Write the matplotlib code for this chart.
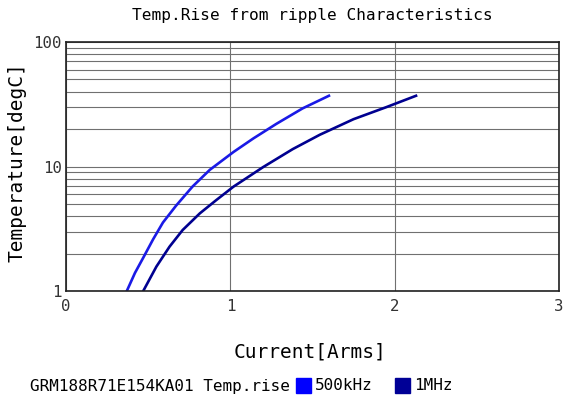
import numpy as np
import matplotlib
matplotlib.use("Agg")
import matplotlib.pyplot as plt
from matplotlib.patches import Rectangle

# values
cur_500k = [0.37, 0.42, 0.47, 0.53, 0.59, 0.67, 0.77, 0.875, 1.02, 1.14, 1.28, 1.44, 1.60]
temp_500k = [1.0, 1.4, 1.85, 2.6, 3.55, 4.85, 6.9, 9.4, 13.1, 16.8, 22.0, 29.3, 37.0]
cur_1m = [0.47, 0.55, 0.63, 0.71, 0.815, 0.915, 1.02, 1.10, 1.20, 1.38, 1.545, 1.75, 1.95, 2.13]
temp_1m = [1.0, 1.57, 2.27, 3.09, 4.21, 5.38, 6.9, 8.1, 9.9, 13.8, 18.0, 24.0, 30.0, 37.0]

x_ticks = [0, 1, 2, 3]
y_ticks = [1, 10, 100]
col_500k = "#1a1ae6"
col_1m = "#000090"

plt.rcParams['font.family'] = ['DejaVu Sans Mono']
fs = 11.3

fig = plt.figure(figsize=(5.67, 4.03), dpi=100)
ax = fig.add_axes([66 / 567, 1 - 291 / 403, (559 - 66) / 567, (291 - 42) / 403])

ax.plot(cur_500k, temp_500k, color=col_500k, lw=1.9)
ax.plot(cur_1m, temp_1m, color=col_1m, lw=1.9)

ax.set_yscale("log")
ax.set_xlim(0, 3)
ax.set_ylim(1, 100)
ax.set_xticks(x_ticks)
ax.set_xticklabels([str(t) for t in x_ticks])
ax.set_yticks(y_ticks)
ax.set_yticklabels([str(t) for t in y_ticks])
ax.yaxis.set_minor_formatter(matplotlib.ticker.NullFormatter())

ax.grid(True, which="major", axis="x", color="#707070", lw=0.8)
ax.grid(True, which="both", axis="y", color="#707070", lw=0.8)
ax.tick_params(which="both", length=0, labelsize=fs, pad=6, labelcolor="#333333")
ax.tick_params(axis="y", pad=3)
for s in ax.spines.values():
    s.set_color("#202020")
    s.set_linewidth(1.2)

ax.set_title("Temp.Rise from ripple Characteristics", fontsize=11.6, pad=16)
ax.set_xlabel("Current[Arms]", fontsize=14)
ax.xaxis.set_label_coords((310 - 66) / 493, (291 - 342) / 249)
ax.set_ylabel("Temperature[degC]", fontsize=14)
ax.yaxis.set_label_coords((27 - 66) / 493, (291 - 162) / 249)

# legend row at the bottom
fig.text(30 / 567, 1 - 386 / 403, "GRM188R71E154KA01 Temp.rise", fontsize=fs + 0.2, va="center")
fig.patches.append(Rectangle((296 / 567, 1 - 393 / 403), 15 / 567, 15 / 403,
                             transform=fig.transFigure, color="#0000ff"))
fig.text(315 / 567, 1 - 386 / 403, "500kHz", fontsize=fs + 0.2, va="center")
fig.patches.append(Rectangle((395 / 567, 1 - 393 / 403), 15 / 567, 15 / 403,
                             transform=fig.transFigure, color="#000096"))
fig.text(414 / 567, 1 - 386 / 403, "1MHz", fontsize=fs + 0.2, va="center")

fig.savefig("out.png", dpi=100)
